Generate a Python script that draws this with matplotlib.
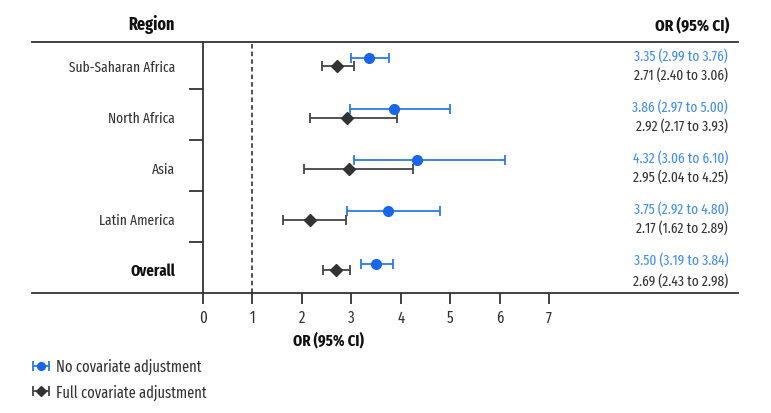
import matplotlib
matplotlib.use("Agg")
import matplotlib.pyplot as plt
from matplotlib import font_manager
from matplotlib.font_manager import FontProperties
import os

regions = ["Overall", "Latin America", "Asia", "North Africa", "Sub-Saharan Africa"]
or_unadj = [3.50, 3.75, 4.32, 3.86, 3.35]
lo_unadj = [3.19, 2.92, 3.06, 2.97, 2.99]
hi_unadj = [3.84, 4.80, 6.10, 5.00, 3.76]
or_adj = [2.69, 2.17, 2.95, 2.92, 2.71]
lo_adj = [2.43, 1.62, 2.04, 2.17, 2.40]
hi_adj = [2.98, 2.89, 4.25, 3.93, 3.06]
xticks = [0, 1, 2, 3, 4, 5, 6, 7]

bymap = {}
for f in font_manager.fontManager.ttflist:
    bymap.setdefault(os.path.basename(f.fname).lower(), f.fname)

prefs = [
    ("firasansextracondensed-regular.ttf", "firasansextracondensed-bold.ttf"),
    ("ptsansnarrow-regular.ttf", "ptsansnarrow-bold.ttf"),
    ("barlowcondensed-regular.ttf", "barlowcondensed-semibold.ttf"),
    ("asapcondensed-regular.ttf", "asapcondensed-bold.ttf"),
]
reg_file = bold_file = None
for r, b in prefs:
    if r in bymap:
        reg_file = bymap[r]
        bold_file = bymap.get(b, bymap[r])
        break


def fp(size, bold=False):
    f = bold_file if bold else reg_file
    if f:
        return FontProperties(fname=f, size=size)
    return FontProperties(family="DejaVu Sans", size=size, weight="bold" if bold else "normal")


BLUE = "#1a66e8"
BLUE_T = "#3f8ef0"
DARK = "#333333"
FS = 10.5

W, H = 771, 414
fig = plt.figure(figsize=(W / 100, H / 100), dpi=100)
L, R, T, B = 32, 738, 43, 294
ax = fig.add_axes([L / W, 1 - B / H, (R - L) / W, (B - T) / H])
scale = 49.43
ax.set_xlim((L - 203) / scale, (R - 203) / scale)
ax.set_ylim(0, 4.92)

n = len(regions)
ypos = list(range(n))
y_blue = [i + 0.6 for i in ypos]
y_dark = [i + 0.44 for i in ypos]
y_blue[0] = 0.57
y_dark[0] = 0.45

ax.errorbar(or_unadj, y_blue,
            xerr=[[o - l for o, l in zip(or_unadj, lo_unadj)], [h - o for o, h in zip(or_unadj, hi_unadj)]],
            fmt="o", color=BLUE, ecolor="#2a78ea", elinewidth=1.3, capsize=3.5, capthick=1.3,
            markersize=7, label="No covariate adjustment", clip_on=False, zorder=3)
ax.errorbar(or_adj, y_dark,
            xerr=[[o - l for o, l in zip(or_adj, lo_adj)], [h - o for o, h in zip(or_adj, hi_adj)]],
            fmt="D", color=DARK, ecolor="#444444", elinewidth=1.3, capsize=3.5, capthick=1.3,
            markersize=6, label="Full covariate adjustment", clip_on=False, zorder=3)

ax.axvline(1, color="#222222", linestyle=(0, (3, 2)), linewidth=1.1)

ax.spines["right"].set_visible(False)
ax.spines["left"].set_position(("data", 0))
for s in ["left", "top", "bottom"]:
    ax.spines[s].set_color("#333333")
    ax.spines[s].set_linewidth(1.3)

ax.set_yticks([1, 2, 3, 4])
ax.set_yticklabels([])
ax.tick_params(axis="y", which="major", direction="out", length=10, width=1.3, color="#333333")
ax.set_yticks([i + 0.47 for i in ypos], minor=True)
ax.set_yticklabels(regions, minor=True)
ax.tick_params(axis="y", which="minor", length=0, pad=20, labelcolor="#333333")
for lbl in ax.get_yticklabels(minor=True):
    if lbl.get_text() == "Overall":
        lbl.set_fontproperties(fp(FS + 1, True))
        lbl.set_color("#111111")
    else:
        lbl.set_fontproperties(fp(FS))

ax.set_xticks(xticks)
ax.set_xticklabels([str(t) for t in xticks])
ax.tick_params(axis="x", direction="out", length=8, width=1.3, color="#333333",
               labelcolor="#333333", pad=4)
for lbl in ax.get_xticklabels():
    lbl.set_fontproperties(fp(FS + 1))
ax.set_xlabel("OR (95% CI)", fontproperties=fp(FS + 1, True), color="#111111")
ax.xaxis.set_label_coords((328 - L) / (R - L), -(340 - B) / (B - T), transform=ax.transAxes)
ax.xaxis.label.set_verticalalignment("center")

tx = (728 - L) / (R - L)
for i in ypos:
    yb = i + 0.66
    yd = i + 0.29 if i > 0 else 0.24
    ax.text(tx, yb, f"{or_unadj[i]:.2f} ({lo_unadj[i]:.2f} to {hi_unadj[i]:.2f})",
            transform=ax.get_yaxis_transform(), ha="right", va="center", fontproperties=fp(FS), color=BLUE_T)
    ax.text(tx, yd, f"{or_adj[i]:.2f} ({lo_adj[i]:.2f} to {hi_adj[i]:.2f})",
            transform=ax.get_yaxis_transform(), ha="right", va="center", fontproperties=fp(FS), color=DARK)

fig.text(175 / W, 1 - 25 / H, "Region", ha="right", va="center", fontproperties=fp(FS + 2, True), color="#111111")
fig.text(729 / W, 1 - 25 / H, "OR (95% CI)", ha="right", va="center", fontproperties=fp(FS + 1.5, True), color="#111111")

leg = fig.legend(loc="upper left", bbox_to_anchor=(31 / W, 1 - 359 / H), frameon=False,
                 prop=fp(FS + 0.8), handlelength=1.3, handletextpad=0.3, labelspacing=0.6,
                 borderaxespad=0, borderpad=0, markerscale=0.8)
for t in leg.get_texts():
    t.set_color("#333333")

fig.savefig("out.png", dpi=100)
